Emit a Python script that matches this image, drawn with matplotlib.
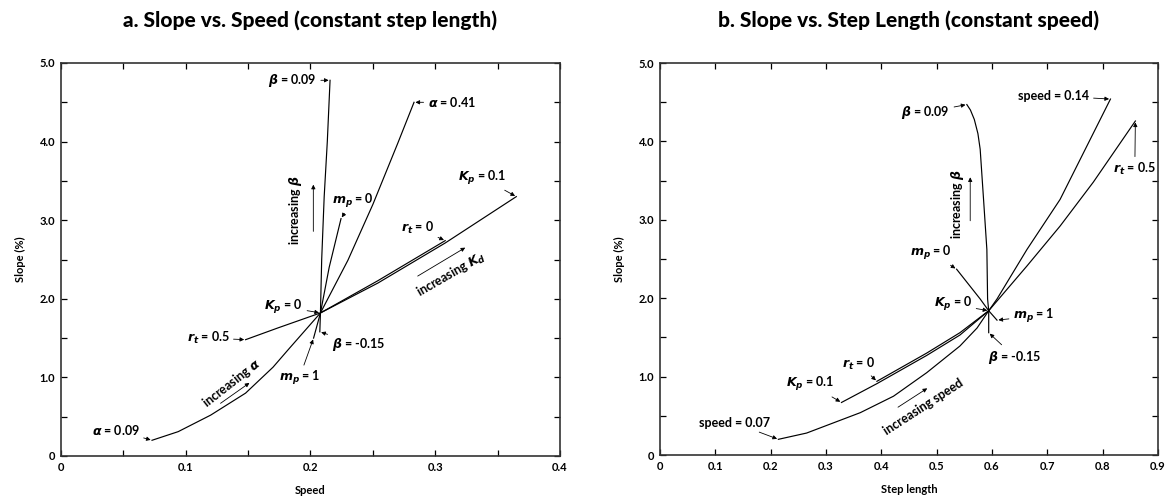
import matplotlib

matplotlib.use("Agg")
import matplotlib.pyplot as plt
from matplotlib.ticker import MultipleLocator, FuncFormatter

plt.rcParams["font.family"] = ["Lato", "DejaVu Sans"]
plt.rcParams["font.weight"] = "bold"

# ---- panel a: slope vs speed (constant step length) ----
speed_alpha = [0.073, 0.094, 0.12, 0.148, 0.17, 0.182, 0.208, 0.23, 0.25, 0.27, 0.283]
slope_alpha = [0.20, 0.31, 0.52, 0.80, 1.13, 1.35, 1.82, 2.49, 3.20, 3.98, 4.50]
speed_beta = [0.2075, 0.208, 0.209, 0.211, 0.2135, 0.2157]
slope_beta = [1.58, 1.82, 2.50, 3.30, 4.00, 4.78]
speed_mp = [0.2025, 0.208, 0.215, 0.2245]
slope_mp = [1.50, 1.82, 2.40, 3.02]
speed_rt = [0.148, 0.174, 0.208, 0.254, 0.308]
slope_rt_a = [1.48, 1.63, 1.82, 2.23, 2.74]
speed_kp = [0.208, 0.254, 0.308, 0.365]
slope_kp = [1.82, 2.20, 2.71, 3.30]

# ---- panel b: slope vs step length (constant speed) ----
step_speed = [0.214, 0.265, 0.362, 0.422, 0.482, 0.542, 0.573, 0.594, 0.609, 0.663, 0.723, 0.814]
slope_speed = [0.20, 0.28, 0.54, 0.75, 1.05, 1.39, 1.62, 1.84, 1.99, 2.62, 3.26, 4.54]
step_rt = [0.392, 0.482, 0.542, 0.594, 0.663, 0.723, 0.783, 0.859]
slope_rt_b = [0.94, 1.30, 1.56, 1.84, 2.41, 2.92, 3.48, 4.26]
step_kp = [0.328, 0.392, 0.482, 0.542, 0.594]
slope_kp_b = [0.67, 0.91, 1.27, 1.53, 1.84]
step_beta = [0.594, 0.594, 0.592, 0.5907, 0.5847, 0.5786, 0.5745, 0.568, 0.561, 0.5545]
slope_beta_b = [1.56, 1.84, 1.99, 2.62, 3.26, 3.90, 4.10, 4.28, 4.40, 4.47]
step_mp = [0.536, 0.5786, 0.594, 0.609]
slope_mp_b = [2.37, 1.99, 1.84, 1.72]

LINE = dict(color="black", lw=0.85)
ARROW = dict(arrowstyle="-|>", color="black", lw=0.6, mutation_scale=6, shrinkA=1, shrinkB=1)
FS = 9
TFS = 8


def fmt(v, _pos):
    return "0" if abs(v) < 1e-9 else f"{v:.1f}"


def style_axes(ax, xmax, xminor):
    ax.set_xlim(0, xmax)
    ax.set_ylim(0, 5)
    ax.xaxis.set_major_locator(MultipleLocator(0.1))
    if xminor:
        ax.xaxis.set_minor_locator(MultipleLocator(xminor))
    ax.yaxis.set_major_locator(MultipleLocator(1.0))
    ax.yaxis.set_minor_locator(MultipleLocator(0.5))
    ax.xaxis.set_major_formatter(FuncFormatter(fmt))
    ax.yaxis.set_major_formatter(FuncFormatter(fmt))
    ax.tick_params(which="both", direction="in", top=True, right=True,
                   length=4, width=0.9, labelsize=TFS, pad=4)
    for s in ax.spines.values():
        s.set_linewidth(1.2)
        s.set_color("#333333")
    ax.set_ylabel("Slope (%)", fontsize=TFS, fontweight="bold")
    ax.yaxis.set_label_coords(-0.07, 0.5)
    ax.xaxis.set_label_coords(0.5, -0.075)


def note(ax, text, xy, xytext, ha="center", va="center"):
    ax.annotate(text, xy=xy, xytext=xytext, ha=ha, va=va, fontsize=FS,
                arrowprops=ARROW)


fig = plt.figure(figsize=(11.72, 5.0), dpi=100)
ax1 = fig.add_axes([0.052, 0.088, 0.4258, 0.786])
ax2 = fig.add_axes([0.5631, 0.09, 0.425, 0.784])

# panel a
ax1.plot(speed_alpha, slope_alpha, **LINE)
ax1.plot(speed_beta, slope_beta, **LINE)
ax1.plot(speed_mp, slope_mp, **LINE)
ax1.plot(speed_rt, slope_rt_a, **LINE)
ax1.plot(speed_kp, slope_kp, **LINE)
style_axes(ax1, 0.4, 0.05)
ax1.set_xlabel("Speed", fontsize=TFS, fontweight="bold")

note(ax1, r"$\beta$ = 0.09", (speed_beta[-1], slope_beta[-1]), (0.205, 4.78), ha="right")
note(ax1, r"$\alpha$ = 0.41", (speed_alpha[-1], slope_alpha[-1]), (0.294, 4.50), ha="left")
note(ax1, r"$K_p$ = 0.1", (speed_kp[-1], slope_kp[-1]), (0.357, 3.54), ha="right")
note(ax1, r"$r_t$ = 0", (speed_rt[-1], slope_rt_a[-1]), (0.299, 2.90), ha="right")
note(ax1, r"$m_p$ = 0", (speed_mp[-1], slope_mp[-1]), (0.217, 3.25), ha="left")
note(ax1, r"$K_p$ = 0", (speed_kp[0], slope_kp[0]), (0.194, 1.90), ha="right")
note(ax1, r"$r_t$ = 0.5", (speed_rt[0], slope_rt_a[0]), (0.135, 1.50), ha="right")
note(ax1, r"$\beta$ = -0.15", (speed_beta[0], slope_beta[0]), (0.217, 1.42), ha="left")
note(ax1, r"$m_p$ = 1", (speed_mp[0], slope_mp[0]), (0.191, 0.99))
note(ax1, r"$\alpha$ = 0.09", (speed_alpha[0], slope_alpha[0]), (0.063, 0.33), ha="right")
ax1.annotate("", xy=(0.2023, 3.47), xytext=(0.2023, 2.84), arrowprops=ARROW)
ax1.text(0.188, 3.13, r"increasing $\beta$", rotation=90, ha="center", va="center", fontsize=FS)
ax1.annotate("", xy=(0.152, 0.94), xytext=(0.127, 0.66), arrowprops=ARROW)
ax1.text(0.137, 0.93, r"increasing $\alpha$", rotation=38, ha="center", va="center", fontsize=FS)
ax1.annotate("", xy=(0.325, 2.66), xytext=(0.285, 2.28), arrowprops=ARROW)
ax1.text(0.313, 2.31, r"increasing $K_d$", rotation=30, ha="center", va="center", fontsize=FS)
ax1.text(0.5, 1.109, "a. Slope vs. Speed (constant step length)", transform=ax1.transAxes,
         ha="center", va="center", fontsize=15, fontweight="black")

# panel b
ax2.plot(step_speed, slope_speed, **LINE)
ax2.plot(step_rt, slope_rt_b, **LINE)
ax2.plot(step_kp, slope_kp_b, **LINE)
ax2.plot(step_beta, slope_beta_b, **LINE)
ax2.plot(step_mp, slope_mp_b, **LINE)
style_axes(ax2, 0.9, None)
ax2.set_xlabel("Step length", fontsize=TFS, fontweight="bold")

note(ax2, r"$\beta$ = 0.09", (step_beta[-1], slope_beta_b[-1]), (0.524, 4.37), ha="right")
note(ax2, "speed = 0.14", (step_speed[-1], slope_speed[-1]), (0.776, 4.58), ha="right")
note(ax2, r"$r_t$ = 0.5", (step_rt[-1], slope_rt_b[-1]), (0.858, 3.65))
note(ax2, r"$m_p$ = 0", (step_mp[0], slope_mp_b[0]), (0.49, 2.58))
note(ax2, r"$K_p$ = 0", (step_kp[-1], slope_kp_b[-1]), (0.564, 1.92), ha="right")
note(ax2, r"$m_p$ = 1", (step_mp[-1], slope_mp_b[-1]), (0.638, 1.77), ha="left")
note(ax2, r"$\beta$ = -0.15", (step_beta[0], slope_beta_b[0]), (0.593, 1.25), ha="left")
note(ax2, r"$r_t$ = 0", (step_rt[0], slope_rt_b[0]), (0.389, 1.16), ha="right")
note(ax2, r"$K_p$ = 0.1", (step_kp[0], slope_kp_b[0]), (0.316, 0.90), ha="right")
note(ax2, "speed = 0.07", (step_speed[0], slope_speed[0]), (0.199, 0.41), ha="right")
ax2.annotate("", xy=(0.5606, 3.56), xytext=(0.5606, 2.97), arrowprops=ARROW)
ax2.text(0.538, 3.2, r"increasing $\beta$", rotation=90, ha="center", va="center", fontsize=FS)
ax2.annotate("", xy=(0.485, 0.86), xytext=(0.428, 0.60), arrowprops=ARROW)
ax2.text(0.476, 0.62, "increasing speed", rotation=33, ha="center", va="center", fontsize=FS)
ax2.text(0.5, 1.109, "b. Slope vs. Step Length (constant speed)", transform=ax2.transAxes,
         ha="center", va="center", fontsize=15, fontweight="black")

fig.savefig("out.png", dpi=100)
